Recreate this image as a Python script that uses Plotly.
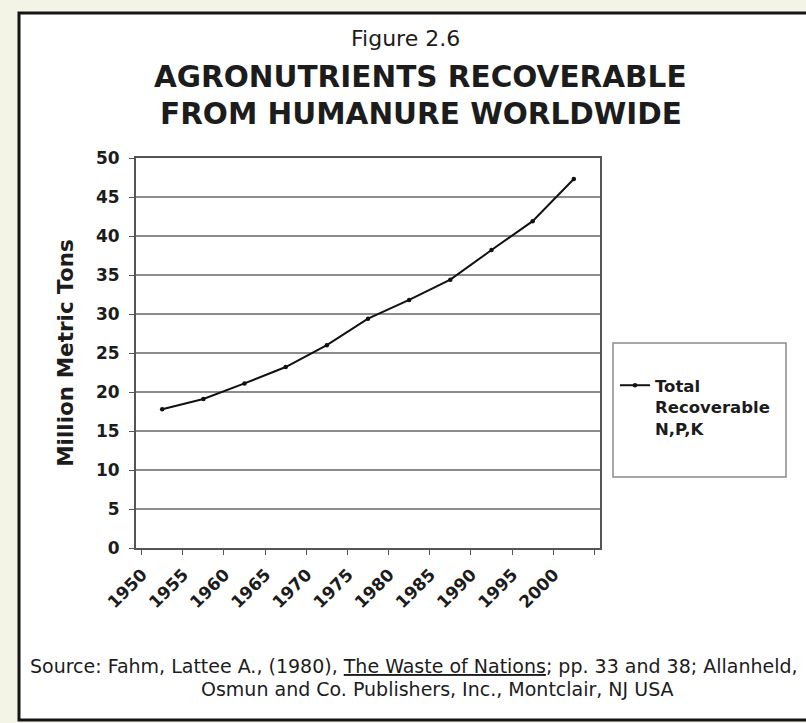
"""Figure 2.6 - agronutrients recoverable from humanure worldwide"""
import plotly.graph_objects as go

years = ['1950', '1955', '1960', '1965', '1970', '1975',
         '1980', '1985', '1990', '1995', '2000']
total_npk = [17.8, 19.1, 21.1, 23.2, 26.0, 29.4, 31.8, 34.4, 38.2, 41.9, 47.3]

W, H = 806, 723
# plot area in pixels
L, R, T, B = 136, 600, 158, 548


def px(x):
    return (x - L) / (R - L)


def py(y):
    return (B - y) / (B - T)


FONT = "DejaVu Sans, Liberation Sans, sans-serif"
INK = "#1c1c1c"

fig = go.Figure()

fig.add_trace(go.Scatter(
    x=years,
    y=total_npk,
    mode='lines+markers',
    name='<b>Total<br>Recoverable<br>N,P,K</b>',
    line=dict(color='#111111', width=2),
    marker=dict(color='#111111', size=4.5),
))

# outer frame of the figure
fig.add_shape(type='rect', xref='paper', yref='paper',
              x0=px(19), x1=px(812), y0=py(720), y1=py(13),
              line=dict(color='#151515', width=3), fillcolor='white',
              layer='below')
# legend box
fig.add_shape(type='rect', xref='paper', yref='paper',
              x0=px(613), x1=px(786), y0=py(477), y1=py(343),
              line=dict(color='#8a8a8a', width=1.5))


def label(text, x, y, size):
    fig.add_annotation(text=text, xref='paper', yref='paper',
                       x=px(x), y=py(y), xanchor='center', yanchor='middle',
                       showarrow=False,
                       font=dict(family=FONT, size=size, color=INK))


label('Figure 2.6', 405, 38, 22)
label('<b>AGRONUTRIENTS RECOVERABLE</b>', 420, 77, 29.5)
label('<b>FROM HUMANURE WORLDWIDE</b>', 421, 114, 29.5)
label('Source: Fahm, Lattee A., (1980), <u>The Waste of Nations</u>; '
      'pp. 33 and 38; Allanheld,', 414, 666, 19)
label('Osmun and Co. Publishers, Inc., Montclair, NJ USA', 437, 689, 19)

fig.update_layout(
    width=W,
    height=H,
    margin=dict(l=L, r=W - R, t=T, b=H - B, pad=0),
    paper_bgcolor='#f4f4e6',
    plot_bgcolor='white',
    showlegend=True,
    legend=dict(
        x=px(615), y=py(368), xanchor='left', yanchor='top',
        bgcolor='rgba(0,0,0,0)', borderwidth=0, valign='top',
        itemwidth=30, tracegroupgap=0,
        font=dict(family=FONT, size=16.5, color=INK),
    ),
    font=dict(family=FONT, color=INK),
)

fig.update_xaxes(
    type='category',
    tickson='boundaries',
    ticks='outside',
    ticklen=5,
    tickcolor='#555555',
    tickangle=-45,
    ticklabelshift=-20,
    ticklabelstandoff=8,
    tickfont=dict(family=FONT, size=17, color=INK, weight='bold'),
    showgrid=False,
    showline=True,
    linecolor='#555555',
    linewidth=2,
    mirror=True,
)

fig.update_yaxes(
    range=[0, 50],
    dtick=5,
    ticks='outside',
    ticklen=5,
    tickcolor='#555555',
    ticklabelstandoff=6,
    tickfont=dict(family=FONT, size=17, color=INK, weight='bold'),
    showgrid=True,
    gridcolor='#8c8c8c',
    gridwidth=1.5,
    showline=True,
    linecolor='#555555',
    linewidth=2,
    mirror=True,
    zeroline=False,
    title=dict(text='<b>Million Metric Tons</b>', standoff=16,
               font=dict(family=FONT, size=21.5, color=INK)),
)

fig.write_html("out.html", config={'displayModeBar': False},
               post_script="document.body.style.margin='0';")
